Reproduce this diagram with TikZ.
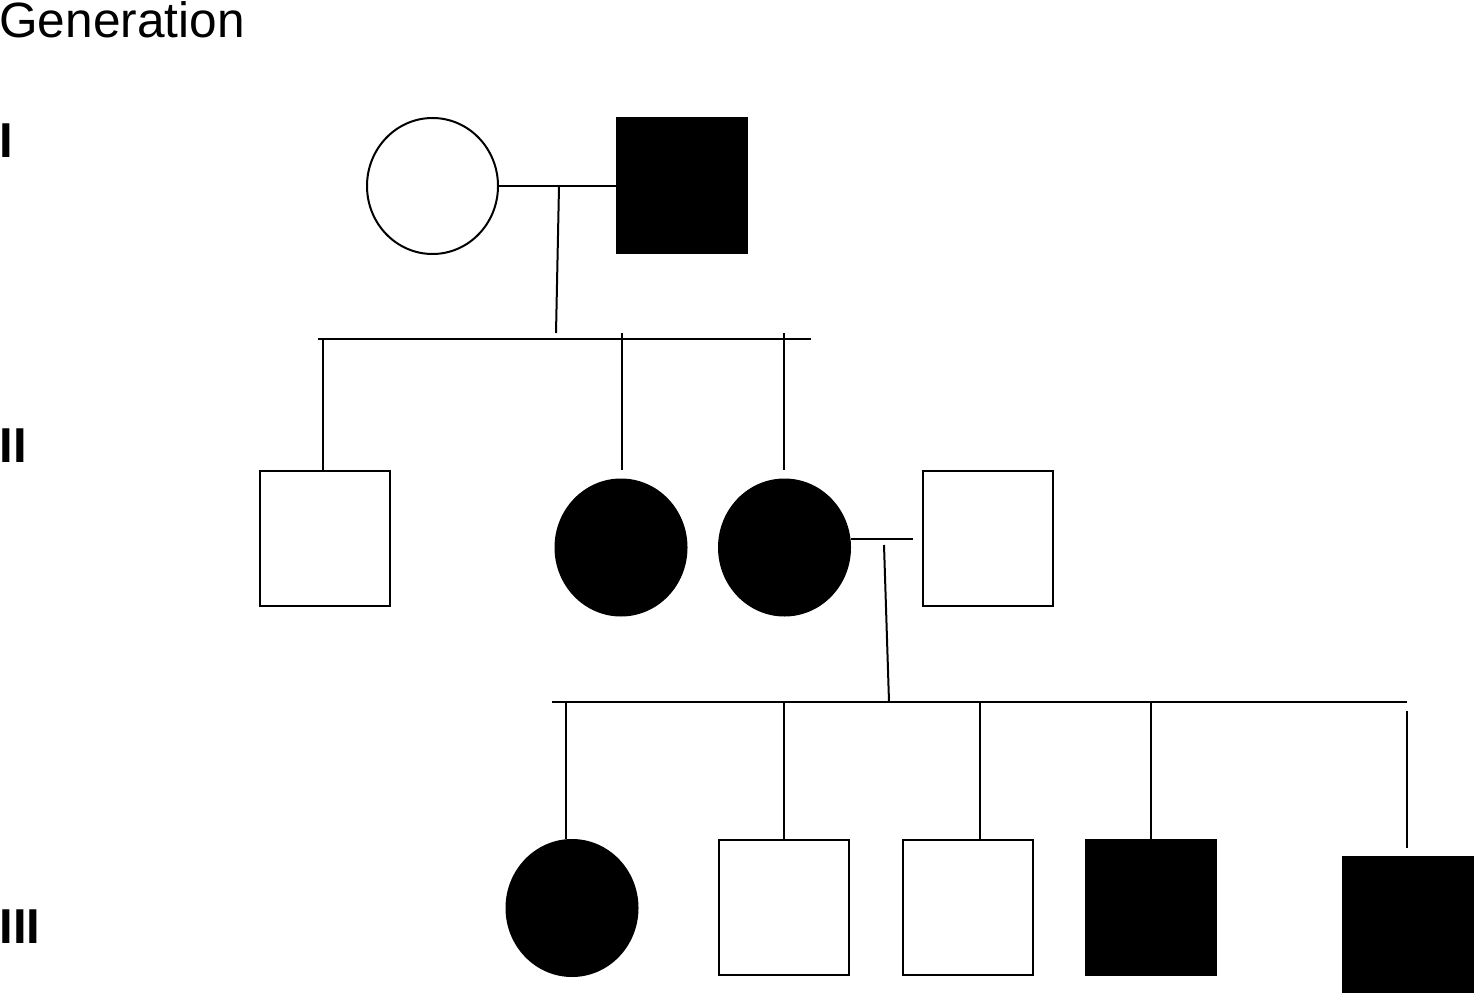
\documentclass[tikz,border=0pt]{standalone}
\usepackage{fontspec}
\setmainfont{Liberation Sans}
\usepackage{tikz}
\usetikzlibrary{shapes.geometric}

\begin{document}
\begin{tikzpicture}[x=0.5pt,y=-0.5pt]
	\tikzset{female/.style={ellipse, draw, line width=1pt, minimum width=65.5pt, minimum height=68pt, inner sep=0pt}}
	\tikzset{male/.style={rectangle, draw, line width=1pt, minimum width=65pt, minimum height=67.5pt, inner sep=0pt}}
	\tikzset{ill/.style={fill=black}}
	\tikzset{gen/.style={font=\fontsize{24.5}{28}\selectfont\bfseries, anchor=base west, inner sep=0pt}}
	\tikzset{link/.style={line width=1pt}}
	\useasboundingbox (0,0) rectangle (1475,994);

	\node[anchor=base west, inner sep=0pt, font=\fontsize{24.8}{28}\selectfont] (T) at (-1,38) {Generation};
	\node[gen] (G1) at (-1,158) {I};
	\node[gen] (G2) at (-1,462) {II};
	\node[gen] (G3) at (-1,943) {III};

	% generation I
	\node[female] (M) at (432.5,186) {};
	\node[male, ill] (F) at (681.5,186) {};
	% generation II
	\node[male] (S1) at (325,538.5) {};
	\node[female, ill] (D1) at (621,547.5) {};
	\node[female, ill] (D2) at (784.5,547.5) {};
	\node[male] (H) at (987.5,538.5) {};
	% generation III
	\node[female, ill] (C1) at (572,908) {};
	\node[male] (C2) at (784,907.5) {};
	\node[male] (C3) at (967.5,907.5) {};
	\node[male, ill] (C4) at (1150.5,907.5) {};
	\node[male, ill] (C5) at (1407.5,924) {};

	\coordinate (A) at (559,186);
	\coordinate (B) at (556,333);
	\coordinate (E) at (323,339);
	\coordinate (K) at (913,539);
	\coordinate (P) at (884,545);
	\coordinate (Q) at (889,702);
	\coordinate (R) at (566,702);

	\draw[link] (M.east) -- (F.west);
	\draw[link] (A) -- (B);
	\draw[link] (318,339) -- (811,339);
	\draw[link] (E) -- (E |- S1.north);
	\draw[link] (622,333) -- (622,470);
	\draw[link] (784,333) -- (784,470);

	\draw[link] (D2.east |- K) -- (K);
	\draw[link] (P) -- (Q);
	\draw[link] (552,702) -- (1407,702);
	\draw[link] (R) -- (R |- C1.north);
	\draw[link] (784,702) -- (C2.north);
	\draw[link] (980,702) -- (980,839);
	\draw[link] (1151,702) -- (1151,839);
	\draw[link] (1407,711) -- (1407,848);
\end{tikzpicture}
\end{document}
